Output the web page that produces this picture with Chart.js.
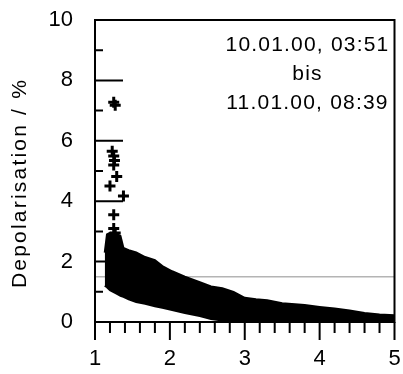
<!DOCTYPE html>
<html>
<head>
<meta charset="utf-8">
<script src="https://cdn.jsdelivr.net/npm/chart.js@4/dist/chart.umd.min.js"></script>
<style>
  html, body { margin: 0; padding: 0; background: #fff; }
</style>
</head>
<body>
<canvas id="chart" width="403" height="374"></canvas>
<script>
const bandX     = [1.13, 1.16, 1.2, 1.3, 1.34, 1.38, 1.45, 1.55, 1.67, 1.8, 1.9, 2.03, 2.2, 2.4, 2.55, 2.7, 2.85, 3.0, 3.15, 3.3, 3.5, 3.8, 4.0, 4.2, 4.4, 4.6, 4.8, 5.0];
const bandUpper = [2.3, 2.9, 2.95, 2.9, 2.85, 2.45, 2.38, 2.3, 2.15, 2.05, 1.85, 1.68, 1.5, 1.32, 1.18, 1.12, 1.0, 0.8, 0.75, 0.72, 0.62, 0.56, 0.5, 0.45, 0.38, 0.3, 0.25, 0.22];
const bandLower = [1.2, 1.15, 1.05, 0.92, 0.87, 0.83, 0.75, 0.66, 0.6, 0.52, 0.47, 0.4, 0.3, 0.2, 0.1, 0.05, 0.02, 0, 0, 0, 0, 0, 0, 0, 0, 0, 0, 0];

// single crosses above the cloud
const outX = [1.25, 1.27, 1.23, 1.25, 1.26, 1.25, 1.29, 1.2, 1.38, 1.25, 1.25, 1.27];
const outY = [7.28, 7.18, 5.65, 5.5, 5.35, 5.2, 4.82, 4.5, 4.17, 3.55, 3.1, 2.95];

const refLevel = 1.5;
const xRange = [1, 5];
const yRange = [0, 10];
const xMinorStep = 0.2;
const yMinorStep = 1;

const yTitle = 'Depolarisation / %';
const noteLines = ['10.01.00, 03:51', 'bis', '11.01.00, 08:39'];

const FONT = '"Liberation Sans", Arial, sans-serif';

const pts = (xs, ys) => xs.map((x, i) => ({ x: x, y: ys[i] }));

const framePlugin = {
    id: 'frame',
    afterDatasetsDraw(chart) {
        const ctx = chart.ctx;
        const a = chart.chartArea;
        const xs = chart.scales.x, ys = chart.scales.y;
        ctx.save();
        ctx.strokeStyle = '#000';
        ctx.lineWidth = 2;
        ctx.strokeRect(a.left, a.top, a.right - a.left, a.bottom - a.top);

        // x ticks, outward
        const nx = Math.round((xRange[1] - xRange[0]) / xMinorStep);
        ctx.beginPath();
        for (let i = 0; i <= nx; i++) {
            const px = xs.getPixelForValue(xRange[0] + i * xMinorStep);
            const len = i % 5 === 0 ? 18 : 11;
            ctx.moveTo(px, a.bottom);
            ctx.lineTo(px, a.bottom + len);
        }
        // y ticks, inward
        for (let v = yRange[0]; v <= yRange[1]; v += yMinorStep) {
            const py = ys.getPixelForValue(v);
            const len = v % 2 === 0 ? 28 : 8;
            ctx.moveTo(a.left, py);
            ctx.lineTo(a.left + len, py);
        }
        ctx.stroke();

        // axis title
        ctx.fillStyle = '#000';
        ctx.font = '21px ' + FONT;
        ctx.letterSpacing = '2.2px';
        ctx.textAlign = 'center';
        ctx.textBaseline = 'middle';
        ctx.save();
        ctx.translate(20, (a.top + a.bottom) / 2 + 12);
        ctx.rotate(-Math.PI / 2);
        ctx.fillText(yTitle, 0, 0);
        ctx.restore();

        // note in upper right
        ctx.letterSpacing = '1.2px';
        ctx.font = '21px ' + FONT;
        noteLines.forEach((t, i) => {
            ctx.fillText(t, a.right - 87, a.top + 25 + i * 29);
        });
        ctx.restore();
    }
};

const ctx = document.querySelector('#chart').getContext('2d');
const chart = new Chart(ctx, {
    type: 'scatter',
    data: {
        datasets: [
            {
                type: 'line',
                data: pts(bandX, bandLower),
                borderColor: '#000',
                borderWidth: 2,
                pointRadius: 0,
                fill: false,
                order: 1
            },
            {
                type: 'line',
                data: pts(bandX, bandUpper),
                borderColor: '#000',
                backgroundColor: '#000',
                borderWidth: 2,
                pointRadius: 0,
                fill: '-1',
                order: 1
            },
            {
                data: pts(outX, outY),
                pointStyle: 'cross',
                pointRadius: 5.5,
                borderWidth: 3,
                borderColor: '#000',
                order: 0
            },
            {
                type: 'line',
                data: pts(xRange, [refLevel, refLevel]),
                borderColor: '#b4b4b4',
                borderWidth: 1.5,
                pointRadius: 0,
                fill: false,
                order: 3
            }
        ]
    },
    options: {
        responsive: false,
        animation: false,
        layout: { padding: { top: 20, right: 8, left: 0, bottom: 0 } },
        plugins: {
            legend: { display: false },
            tooltip: { enabled: false }
        },
        scales: {
            x: {
                type: 'linear',
                min: xRange[0],
                max: xRange[1],
                grid: { display: false, drawTicks: false },
                border: { display: false },
                ticks: { stepSize: 1, color: '#000', padding: 24, font: { family: FONT, size: 22 } },
                afterFit(scale) {
                    scale.height = 52;
                    scale.paddingLeft = 0;
                    scale.paddingRight = 0;
                }
            },
            y: {
                min: yRange[0],
                max: yRange[1],
                grid: { display: false, drawTicks: false },
                border: { display: false },
                ticks: { stepSize: 2, color: '#000', padding: 22, font: { family: FONT, size: 22 } },
                afterFit(scale) {
                    scale.width = 95;
                    scale.paddingTop = 0;
                    scale.paddingBottom = 0;
                }
            }
        }
    },
    plugins: [framePlugin]
});
</script>
</body>
</html>
